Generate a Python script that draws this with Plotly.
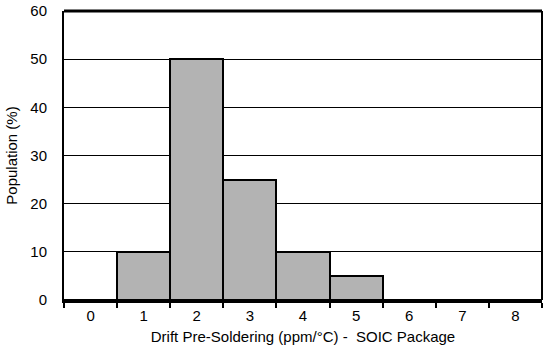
import plotly.graph_objects as go

categories = [0, 1, 2, 3, 4, 5, 6, 7, 8]
population = [0, 10, 50, 25, 10, 5, 0, 0, 0]
y_ticks = [0, 10, 20, 30, 40, 50, 60]

fig = go.Figure()
fig.add_trace(go.Bar(
    x=categories, y=population, width=1,
    marker=dict(color="#b3b3b3", line=dict(color="black", width=2)),
))

font = dict(family="Liberation Sans, Arial, sans-serif", size=15, color="black")
fig.update_layout(
    width=544, height=356,
    margin=dict(l=64, r=2, t=11, b=56),
    paper_bgcolor="white", plot_bgcolor="white",
    showlegend=False, font=font,
    bargap=0,
)
fig.update_xaxes(
    range=[-0.5, 8.5], tickvals=categories, ticktext=[str(c) for c in categories],
    ticks="", showgrid=False, zeroline=False, automargin=False,
    showline=True, linecolor="black", linewidth=3, mirror=False,
    minor=dict(tickvals=[c - 0.5 for c in categories] + [8.5], ticks="outside",
               ticklen=5, tickwidth=2, tickcolor="black", showgrid=False),
    ticklabelstandoff=0,
    title=dict(text="Drift Pre-Soldering (ppm/°C) -  SOIC Package", font=dict(size=15), standoff=9),
)
fig.update_yaxes(
    range=[0, 60], tickvals=y_ticks, ticks="", automargin=True,
    showgrid=True, gridcolor="black", gridwidth=1, zeroline=False,
    showline=True, linecolor="black", linewidth=2,
    ticklabelstandoff=12, ticklabeloverflow="allow",
    title=dict(text="Population (%)", font=dict(size=15), standoff=9),
)
# top and right frame
fig.add_shape(type="line", xref="paper", yref="paper", x0=0, x1=1, y0=1, y1=1,
              line=dict(color="black", width=3))
fig.add_shape(type="line", xref="paper", yref="paper", x0=1, x1=1, y0=0, y1=1,
              line=dict(color="black", width=2))
fig.write_html("out.html", config={"displayModeBar": False},
               post_script="document.body.style.margin='0';")
